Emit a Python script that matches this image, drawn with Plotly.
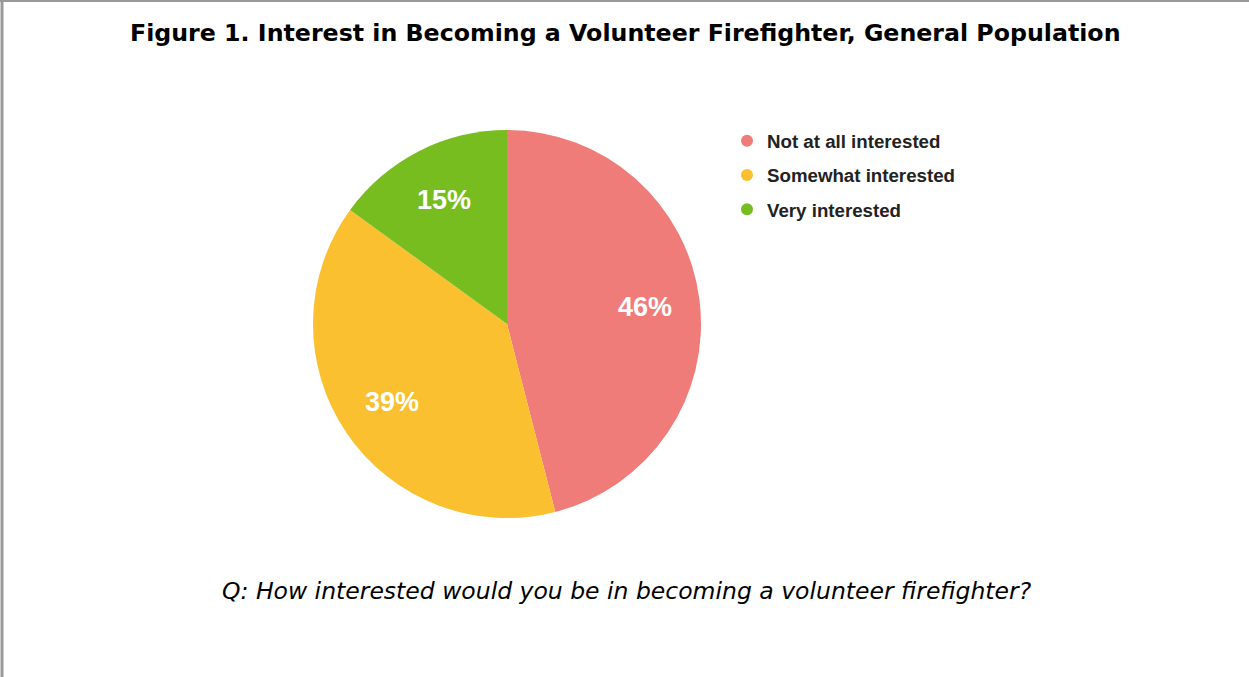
import math
import plotly.graph_objects as go

categories = ["Not at all interested", "Somewhat interested", "Very interested"]
values = [46, 39, 15]
colors = ["#F07C7A", "#FAC02F", "#78BD20"]

W, H = 1249, 677

# pie placement (paper fractions)
dom_x = [313 / W, 701 / W]
dom_y = [(H - 518) / H, (H - 130) / H]
cx = (dom_x[0] + dom_x[1]) / 2
cy = (dom_y[0] + dom_y[1]) / 2
r_px = (dom_x[1] - dom_x[0]) * W / 2
label_frac = 0.716

fig = go.Figure()

fig.add_trace(go.Pie(
    labels=categories,
    values=values,
    marker=dict(colors=colors, line=dict(width=0)),
    sort=False,
    direction="clockwise",
    rotation=0,
    textinfo="none",
    showlegend=False,
    hoverinfo="label+percent",
    domain=dict(x=dom_x, y=dom_y),
))

for i, (cat, col) in enumerate(zip(categories, colors)):
    fig.add_trace(go.Scatter(
        x=[None], y=[None], mode="markers", name=cat,
        legendgroup=f"g{i}",
        marker=dict(symbol="circle", size=13, color=col),
        showlegend=True,
    ))

# slice labels placed at mid-angle of each slice
annotations = []
total = sum(values)
cum = 0
for v in values:
    mid = (cum + v / 2) / total * 2 * math.pi
    cum += v
    dx = label_frac * r_px * math.sin(mid) / W
    dy = label_frac * r_px * math.cos(mid) / H
    annotations.append(dict(
        text=f"<b>{v}%</b>", x=cx + dx, y=cy + dy, xref="paper", yref="paper",
        xanchor="center", yanchor="middle", showarrow=False,
        font=dict(family="Liberation Sans", size=27, color="white"),
    ))

annotations += [
    dict(text="<b>Figure 1. Interest in Becoming a Volunteer Firefighter, General Population</b>",
         x=625 / W, y=(H - 33) / H, xref="paper", yref="paper",
         xanchor="center", yanchor="middle", showarrow=False,
         font=dict(family="DejaVu Sans", size=23.7, color="black")),
    dict(text="<i>Q: How interested would you be in becoming a volunteer firefighter?</i>",
         x=627 / W, y=(H - 591) / H, xref="paper", yref="paper",
         xanchor="center", yanchor="middle", showarrow=False,
         font=dict(family="DejaVu Sans", size=23.5, color="black")),
]

fig.update_layout(
    width=W, height=H,
    margin=dict(l=0, r=0, t=0, b=0),
    paper_bgcolor="white",
    plot_bgcolor="white",
    xaxis=dict(visible=False),
    yaxis=dict(visible=False),
    legend=dict(
        x=727 / W, y=(H - 122) / H, xanchor="left", yanchor="top",
        font=dict(family="Liberation Sans", size=18.7, color="#222222", weight="bold"),
        tracegroupgap=7,
        itemsizing="constant",
        bgcolor="rgba(0,0,0,0)",
    ),
    annotations=annotations,
    shapes=[
        dict(type="line", xref="paper", yref="paper", x0=0, x1=1, y0=1 - 1 / H, y1=1 - 1 / H,
             line=dict(color="#999999", width=2)),
        dict(type="line", xref="paper", yref="paper", x0=2 / W, x1=2 / W, y0=0, y1=1,
             line=dict(color="#999999", width=3)),
    ],
)

fig.write_html("out.html")
